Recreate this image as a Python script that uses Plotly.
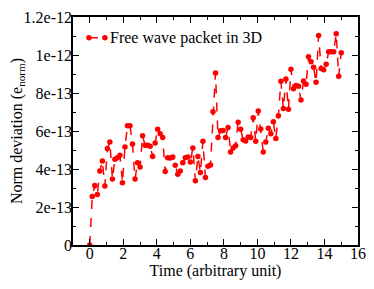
import plotly.graph_objects as go

time = [0.0, 0.15, 0.3, 0.45, 0.6, 0.75, 0.9, 1.05, 1.2, 1.35,
        1.5, 1.65, 1.8, 1.95, 2.1, 2.25, 2.4, 2.55, 2.7, 2.85,
        3.0, 3.15, 3.3, 3.45, 3.6, 3.75, 3.9, 4.05, 4.2, 4.35,
        4.5, 4.65, 4.8, 4.95, 5.1, 5.25, 5.4, 5.55, 5.7, 5.85,
        6.0, 6.15, 6.3, 6.45, 6.6, 6.75, 6.9, 7.05, 7.2, 7.35,
        7.5, 7.65, 7.8, 7.95, 8.1, 8.25, 8.4, 8.55, 8.7, 8.85,
        9.0, 9.15, 9.3, 9.45, 9.6, 9.75, 9.9, 10.05, 10.2, 10.35,
        10.5, 10.65, 10.8, 10.95, 11.1, 11.25, 11.4, 11.55, 11.7, 11.85,
        12.0, 12.15, 12.3, 12.45, 12.6, 12.75, 12.9, 13.05, 13.2, 13.35,
        13.5, 13.65, 13.8, 13.95, 14.1, 14.25, 14.4, 14.55, 14.7, 14.85,
        15.0]

# values in units of 1e-13
norm_dev_e13 = [0.0, 2.55, 3.13, 2.66, 3.9, 4.42, 3.1, 5.08, 5.42, 3.47,
                4.51, 4.59, 4.73, 3.28, 5.16, 6.28, 6.27, 5.32, 3.47, 4.33,
                4.11, 5.75, 5.25, 5.25, 5.2, 4.66, 5.37, 6.09, 5.85, 5.66,
                3.87, 4.59, 4.58, 4.63, 4.2, 3.73, 3.9, 4.33, 4.59, 4.63,
                4.37, 5.11, 3.38, 4.66, 3.81, 5.46, 3.55, 4.14, 4.21, 7.01,
                9.05, 5.66, 6.01, 6.03, 5.66, 6.18, 4.9, 5.11, 5.23, 6.46,
                6.09, 5.54, 5.47, 5.68, 5.66, 6.7, 5.46, 7.05, 6.11, 4.9,
                5.42, 6.15, 5.85, 6.49, 5.6, 6.8, 8.62, 7.18, 8.74, 7.15,
                9.25, 8.22, 8.39, 8.36, 7.63, 8.63, 8.46, 9.91, 9.64, 9.36,
                8.56, 11.02, 9.29, 9.22, 9.51, 10.17, 10.17, 10.17, 11.12, 8.88,
                10.12]
norm_dev = [v * 1e-13 for v in norm_dev_e13]

series_name = "Free wave packet in 3D"
x_ticks = [0, 2, 4, 6, 8, 10, 12, 14, 16]
y_tickvals = [0, 2e-13, 4e-13, 6e-13, 8e-13, 1e-12, 1.2e-12]
y_ticktext = ["0", "2e-13", "4e-13", "6e-13", "8e-13", "1e-12", "1.2e-12"]

font = "Liberation Serif, Times New Roman, serif"
red = "#ff0000"

fig = go.Figure()
fig.add_trace(go.Scatter(
    x=time, y=norm_dev, mode="lines+markers",
    name=series_name, showlegend=False,
    line=dict(color=red, width=1.5, dash="dash"),
    marker=dict(color=red, size=5.5, symbol="circle"),
))

axis_common = dict(
    showline=True, linecolor="black", linewidth=1.5, mirror="ticks",
    ticks="inside", ticklen=6, tickwidth=1, tickcolor="black",
    showgrid=False, zeroline=False, automargin=False,
    ticklabeloverflow="allow",
    tickfont=dict(family=font, size=16, color="black"),
)

# legend key (drawn as a small sample in paper coordinates)
key_x0, key_x1, key_y = 0.056, 0.112, 0.909
shapes = [
    dict(type="line", xref="paper", yref="paper", x0=key_x0, x1=key_x1,
         y0=key_y, y1=key_y, line=dict(color=red, width=1.5, dash="dash")),
]
for kx in (key_x0, key_x1):
    shapes.append(dict(type="circle", xref="paper", yref="paper",
                       xsizemode="pixel", ysizemode="pixel",
                       xanchor=kx, yanchor=key_y, x0=-2.75, x1=2.75, y0=-2.75, y1=2.75,
                       fillcolor=red, line=dict(color=red, width=0)))

fig.update_layout(
    width=374, height=289,
    margin=dict(l=65, r=24, t=9, b=52, autoexpand=False),
    paper_bgcolor="white", plot_bgcolor="white",
    font=dict(family=font, size=16, color="black"),
    showlegend=False,
    shapes=shapes,
    annotations=[dict(text=series_name, xref="paper", yref="paper",
                      x=0.122, y=key_y, xanchor="left", yanchor="middle",
                      showarrow=False, font=dict(family=font, size=16, color="black"))],
    xaxis=dict(range=[-1, 16], tickvals=x_ticks, ticklabelstandoff=-7,
               minor=dict(dtick=1, tick0=0, ticks="inside", ticklen=3, tickcolor="black"),
               title=dict(text="Time (arbitrary unit)", standoff=0,
                          font=dict(family=font, size=16)),
               **axis_common),
    yaxis=dict(range=[0, 1.2e-12], tickvals=y_tickvals, ticktext=y_ticktext,
               ticklabelstandoff=-4,
               minor=dict(dtick=1e-13, tick0=0, ticks="inside", ticklen=3, tickcolor="black"),
               title=dict(text="Norm deviation (e<sub>norm</sub>)", standoff=6,
                          font=dict(family=font, size=16)),
               **axis_common),
)

fig.write_html("out.html")
